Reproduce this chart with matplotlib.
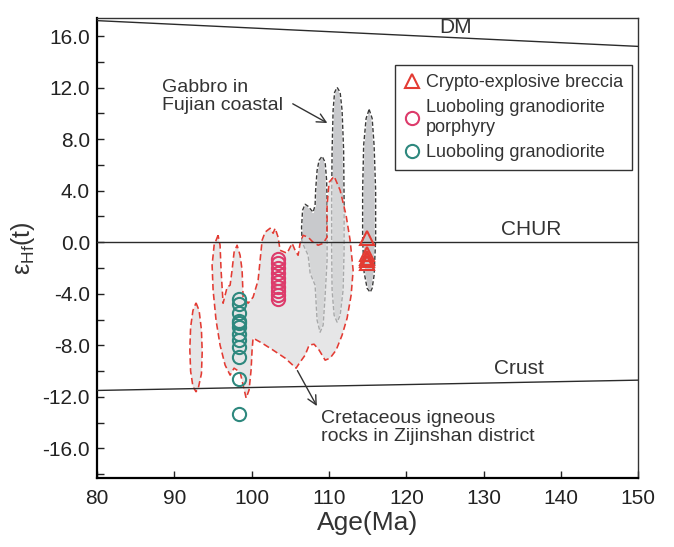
import matplotlib

matplotlib.use("Agg")
import matplotlib.pyplot as plt
from matplotlib.patches import Polygon
from matplotlib.ticker import FormatStrFormatter, MultipleLocator

plt.rcParams["font.family"] = ["Liberation Sans", "DejaVu Sans"]
plt.rcParams["mathtext.fontset"] = "custom"
plt.rcParams["mathtext.rm"] = "Liberation Sans"
plt.rcParams["axes.unicode_minus"] = False

# reference evolution lines (age, eHf at both ends of the axis)
DM_AGE = [80, 150]
DM_EHF = [17.2, 15.2]
CHUR_AGE = [80, 150]
CHUR_EHF = [0.0, 0.0]
CRUST_AGE = [80, 150]
CRUST_EHF = [-11.5, -10.7]

# zircon analyses
BRECCIA_AGE = [114.9] * 5
BRECCIA_EHF = [0.3, -0.9, -1.2, -1.4, -1.6]
PORPHYRY_AGE = [103.4] * 10
PORPHYRY_EHF = [-1.3, -1.6, -2.0, -2.4, -2.8, -3.1, -3.5, -3.8, -4.1, -4.4]
GRANO_AGE = [98.4] * 12
GRANO_EHF = [-4.4, -4.8, -5.5, -6.1, -6.3, -6.6, -7.1, -7.6, -8.1, -8.9, -10.6, -13.3]

# outline of gabbro fields (Fujian coastal)
GABBRO_A_AGE = [106.52, 106.45, 106.58, 106.91, 107.30, 107.94, 108.20, 108.27, 108.46, 108.72,
                109.11, 109.50, 109.69, 109.75, 109.75, 109.75, 109.50, 109.24, 108.85, 108.46,
                108.20, 107.56, 107.30]
GABBRO_A_EHF = [0.0, 1.16, 2.48, 2.95, 2.79, 2.33, 2.87, 4.03, 5.58, 6.36,
                6.67, 6.20, 4.81, 3.26, 0.93, -1.40, -4.11, -6.43, -6.98, -6.05,
                -3.33, -2.40, -1.01]
GABBRO_B_AGE = [111.05, 111.44, 111.69, 111.89, 111.95, 111.95, 111.82, 111.44, 111.05, 110.66,
                110.40, 110.34, 110.34, 110.40, 110.53, 110.72]
GABBRO_B_EHF = [12.02, 11.63, 10.23, 7.13, 3.26, -0.62, -3.72, -5.66, -6.20, -5.66,
                -3.72, -0.62, 3.26, 7.13, 10.23, 11.63]
GABBRO_C_AGE = [115.19, 115.58, 115.83, 116.03, 116.03, 115.83, 115.58, 115.32, 114.93, 114.54,
                114.35, 114.35, 114.48, 114.80]
GABBRO_C_EHF = [10.31, 9.61, 7.52, 4.03, 0.16, -2.56, -3.57, -3.88, -3.57, -2.33,
                0.16, 4.03, 7.52, 9.61]

# outline of Cretaceous igneous rocks in Zijinshan district
CRET_SMALL_AGE = [92.8, 93.2, 93.5, 93.6, 93.5, 93.1, 92.8, 92.4, 92.1, 92.0, 92.1, 92.4]
CRET_SMALL_EHF = [-4.7, -5.3, -6.8, -8.5, -10.2, -11.3, -11.6, -11.2, -10.0, -8.3, -6.6, -5.3]
CRET_MAIN_AGE = [95.65, 95.14, 94.88, 95.01, 95.39, 95.91, 96.56, 97.21, 97.72, 98.50,
                 98.89, 99.28, 99.66, 99.92, 100.05, 100.18, 101.35, 102.77, 104.32, 105.74,
                 106.26, 106.91, 107.43, 108.07, 108.72, 109.50, 110.14, 110.92, 111.69, 112.34,
                 112.86, 113.12, 112.73, 112.21, 111.44, 110.66, 110.01, 109.75, 109.75, 109.24,
                 108.59, 107.94, 107.30, 106.65, 106.26, 106.00, 105.61, 105.23, 104.58, 103.67,
                 103.42, 103.03, 102.77, 102.38, 101.73, 101.35, 100.83, 100.18, 99.53, 98.89,
                 98.76, 98.50, 98.11, 97.72, 97.46, 97.21, 96.82, 96.30, 96.04, 95.91]
CRET_MAIN_EHF = [0.54, -0.23, -1.78, -3.72, -6.05, -7.98, -9.53, -10.31, -9.77, -10.08,
                 -11.09, -12.09, -11.47, -9.92, -8.37, -7.44, -7.83, -8.37, -8.99, -9.77,
                 -9.30, -8.76, -7.98, -7.91, -8.37, -9.15, -8.99, -8.37, -7.21, -5.89,
                 -4.11, -2.17, 0.16, 2.09, 4.03, 5.12, 4.65, 2.87, 0.39, -0.08,
                 -0.23, 0.0, 0.39, 0.54, -0.08, -1.01, -0.62, -0.08, -0.85, -0.62,
                 0.39, 1.09, 0.70, 1.09, 0.78, 0.16, -2.95, -4.26, -4.73, -4.26,
                 -2.17, -1.01, -0.23, -0.78, -2.17, -3.33, -3.49, -4.73, -2.17, -0.23]

RED = "#e33b33"
PINK = "#dd3b6b"
TEAL = "#2e887e"


def outline(ax, xs, ys, fill, alpha, edge, dashes, zorder, under=None, lw=1.0):
    ax.add_patch(Polygon(list(zip(xs, ys)), closed=True, facecolor=fill, alpha=alpha,
                         edgecolor="none", zorder=zorder))
    cx, cy = list(xs) + [xs[0]], list(ys) + [ys[0]]
    if under:
        ax.plot(cx, cy, color=under, lw=lw + 0.3, zorder=zorder + 0.1)
    ax.plot(cx, cy, color=edge, lw=lw, dashes=dashes, zorder=zorder + 0.2)


fig = plt.figure(figsize=(6.74, 5.47), dpi=100)
ax = fig.add_axes([0.144, 0.126, 0.803, 0.841])

for xs, ys in [(GABBRO_A_AGE, GABBRO_A_EHF), (GABBRO_B_AGE, GABBRO_B_EHF),
               (GABBRO_C_AGE, GABBRO_C_EHF)]:
    outline(ax, xs, ys, "#c8c9cc", 1.0, "#3a3a3a", (3, 1.6), 1, under="white")
for xs, ys in [(CRET_SMALL_AGE, CRET_SMALL_EHF), (CRET_MAIN_AGE, CRET_MAIN_EHF)]:
    outline(ax, xs, ys, "#dbdcdd", 0.69, RED, (4, 2.2), 2, lw=1.15)

for xs, ys in [(DM_AGE, DM_EHF), (CHUR_AGE, CHUR_EHF), (CRUST_AGE, CRUST_EHF)]:
    ax.plot(xs, ys, color="#2b2b2b", lw=1.0, zorder=3)

ax.plot(BRECCIA_AGE, BRECCIA_EHF, ls="none", marker="^", ms=9.5, mfc="none", mec=RED, mew=1.5,
        zorder=5, label="Crypto-explosive breccia")
ax.plot(PORPHYRY_AGE, PORPHYRY_EHF, ls="none", marker="o", ms=9.5, mfc="none", mec=PINK, mew=1.5,
        zorder=5, label="Luoboling granodiorite\nporphyry")
ax.plot(GRANO_AGE, GRANO_EHF, ls="none", marker="o", ms=9.5, mfc="none", mec=TEAL, mew=1.5,
        zorder=5, label="Luoboling granodiorite")

txt = dict(color="#333333", fontsize=15)
ax.text(126.4, 16.7, "DM", ha="center", va="center", **txt)
ax.text(136.1, 1.0, "CHUR", ha="center", va="center", **txt)
ax.text(134.6, -9.8, "Crust", ha="center", va="center", **txt)

note = dict(color="#333333", fontsize=14, linespacing=1.05)
ax.text(88.4, 11.3, "Gabbro in\nFujian coastal", ha="left", va="center", **note)
ax.annotate("", xy=(110.1, 9.15), xytext=(105.0, 10.85),
            arrowprops=dict(arrowstyle="->", color="#333333", lw=1.0, mutation_scale=16))
ax.text(108.9, -14.4, "Cretaceous igneous\nrocks in Zijinshan district", ha="left", va="center",
        **note)
ax.annotate("", xy=(108.6, -12.9), xytext=(105.74, -9.77),
            arrowprops=dict(arrowstyle="->", color="#333333", lw=1.0, mutation_scale=16))

ax.set_xlim(80, 150)
ax.set_ylim(-18.3, 17.4)
ax.xaxis.set_major_locator(MultipleLocator(10))
ax.yaxis.set_major_locator(MultipleLocator(4))
ax.yaxis.set_minor_locator(MultipleLocator(2))
ax.yaxis.set_major_formatter(FormatStrFormatter("%.1f"))
ax.tick_params(axis="both", which="both", direction="in", length=5, width=1.0,
               labelsize=15, colors="#222222", top=False, right=False)
ax.tick_params(axis="x", pad=8)
ax.tick_params(axis="y", pad=5)
ax.set_xlabel("Age(Ma)", fontsize=19, color="#333333", labelpad=2)
ax.set_ylabel(r"ε$_{\mathrm{Hf}}$(t)", fontsize=18, color="#333333", labelpad=4)
for side in ("left", "bottom"):
    ax.spines[side].set_linewidth(1.6)
for side in ("top", "right"):
    ax.spines[side].set_linewidth(1.0)
    ax.spines[side].set_color("#333333")

leg = ax.legend(loc="upper right", bbox_to_anchor=(0.989, 0.898), borderaxespad=0,
                fontsize=13, frameon=True, fancybox=False, framealpha=1, edgecolor="#333333",
                handlelength=0.8, handletextpad=0.4, labelspacing=0.45, borderpad=0.5,
                labelcolor="#333333")
leg.get_frame().set_linewidth(1.0)

fig.savefig("out.png", dpi=100)
